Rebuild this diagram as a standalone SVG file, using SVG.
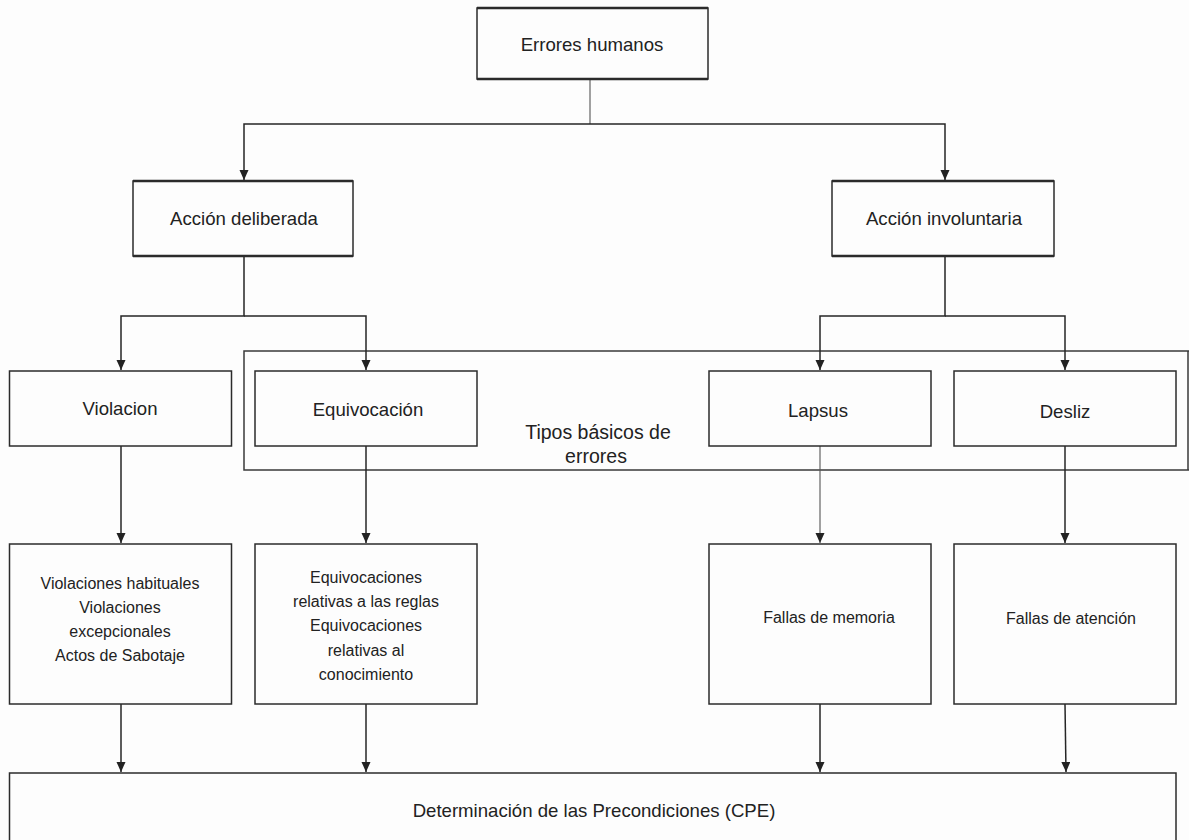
<svg xmlns="http://www.w3.org/2000/svg" width="1189" height="840" viewBox="0 0 1189 840">
  <style>
    .box { fill: #fdfdfd; stroke: #2b2b2b; stroke-width: 1.5; }
    .edge { stroke: #2b2b2b; stroke-width: 2.6; }
    .frame { fill: none; stroke: #3a3a3a; stroke-width: 1.5; }
    .wire { fill: none; stroke: #262626; stroke-width: 1.5; }
    .thin { fill: none; stroke: #555; stroke-width: 1.1; }
    text { font-family: "Liberation Sans", Arial, sans-serif; fill: #222; text-anchor: middle; }
    .lbl { font-size: 18.6px; }
    .big { font-size: 19.5px; }
    .sm { font-size: 16px; }
  </style>
  <defs>
    <marker id="arrow" markerUnits="userSpaceOnUse" markerWidth="10" markerHeight="10" refX="10" refY="4.5" orient="auto">
      <path d="M0,0 L10,4.5 L0,9 z" fill="#222"/>
    </marker>
  </defs>

  <rect width="1189" height="840" fill="#fdfdfd"/>

  <!-- grouping frame for the four basic error types -->
  <g id="tipos-basicos">
    <path class="frame" d="M1189,351 H244 V470 H1189 M1188,351 V470"/>
    <text class="big" x="598" y="439">Tipos básicos de</text>
    <text class="big" x="596" y="463">errores</text>
  </g>

  <!-- connectors -->
  <g id="connectors">
    <path class="thin" d="M590,79 V124"/>
    <path class="wire" d="M590,124 H244 V180" marker-end="url(#arrow)"/>
    <path class="wire" d="M590,124 H945 V180" marker-end="url(#arrow)"/>

    <path class="wire" d="M244,256 V316 H121 V370" marker-end="url(#arrow)"/>
    <path class="wire" d="M244,316 H366 V370" marker-end="url(#arrow)"/>
    <path class="wire" d="M945,256 V316 H820 V370" marker-end="url(#arrow)"/>
    <path class="wire" d="M945,316 H1065 V370" marker-end="url(#arrow)"/>

    <path class="wire" d="M121,446 V543" marker-end="url(#arrow)"/>
    <path class="wire" d="M366,446 V543" marker-end="url(#arrow)"/>
    <path class="thin" d="M820,446 V543" marker-end="url(#arrow)"/>
    <path class="wire" d="M1065,446 V543" marker-end="url(#arrow)"/>

    <path class="wire" d="M121,704 V772" marker-end="url(#arrow)"/>
    <path class="wire" d="M366,704 V772" marker-end="url(#arrow)"/>
    <path class="wire" d="M820,704 V772" marker-end="url(#arrow)"/>
    <path class="wire" d="M1065,704 L1066,772" marker-end="url(#arrow)"/>
  </g>

  <!-- level 0 -->
  <g id="errores-humanos">
    <rect class="box" x="477" y="8" width="231" height="71"/>
    <path class="edge" d="M477,8 H708 M477,79 H708"/>
    <text class="lbl" x="592" y="51">Errores humanos</text>
  </g>

  <!-- level 1 -->
  <g id="accion-deliberada">
    <rect class="box" x="133" y="181" width="220" height="75"/>
    <path class="edge" d="M133,181 H353 M133,256 H353"/>
    <text class="lbl" x="244" y="225">Acción deliberada</text>
  </g>
  <g id="accion-involuntaria">
    <rect class="box" x="832" y="181" width="222" height="75"/>
    <path class="edge" d="M832,181 H1054 M832,256 H1054"/>
    <text class="lbl" x="944" y="225">Acción involuntaria</text>
  </g>

  <!-- level 2 -->
  <g id="violacion">
    <rect class="box" x="9.5" y="371" width="222" height="75"/>
    <text class="lbl" x="120" y="415">Violacion</text>
  </g>
  <g id="equivocacion">
    <rect class="box" x="255" y="371" width="222" height="75"/>
    <text class="lbl" x="368" y="416">Equivocación</text>
  </g>
  <g id="lapsus">
    <rect class="box" x="709" y="371" width="222" height="75"/>
    <text class="lbl" x="818" y="417">Lapsus</text>
  </g>
  <g id="desliz">
    <rect class="box" x="954" y="371" width="222" height="75"/>
    <text class="lbl" x="1065" y="418">Desliz</text>
  </g>

  <!-- level 3 -->
  <g id="violaciones-detalle">
    <rect class="box" x="9.5" y="544" width="222" height="160"/>
    <text class="sm" x="120" y="589">Violaciones habituales</text>
    <text class="sm" x="120" y="613">Violaciones</text>
    <text class="sm" x="120" y="637">excepcionales</text>
    <text class="sm" x="120" y="661">Actos de Sabotaje</text>
  </g>
  <g id="equivocaciones-detalle">
    <rect class="box" x="255" y="544" width="222" height="160"/>
    <text class="sm" x="366" y="583">Equivocaciones</text>
    <text class="sm" x="366" y="607">relativas a las reglas</text>
    <text class="sm" x="366" y="631">Equivocaciones</text>
    <text class="sm" x="366" y="656">relativas al</text>
    <text class="sm" x="366" y="680">conocimiento</text>
  </g>
  <g id="fallas-memoria">
    <rect class="box" x="709" y="544" width="222" height="160"/>
    <text class="sm" x="829" y="623">Fallas de memoria</text>
  </g>
  <g id="fallas-atencion">
    <rect class="box" x="954" y="544" width="222" height="160"/>
    <text class="sm" x="1071" y="624">Fallas de atención</text>
  </g>

  <!-- level 4 -->
  <g id="precondiciones">
    <rect class="box" x="9.5" y="773" width="1166.5" height="80"/>
    <text class="lbl" x="594" y="817">Determinación de las Precondiciones (CPE)</text>
  </g>
</svg>
